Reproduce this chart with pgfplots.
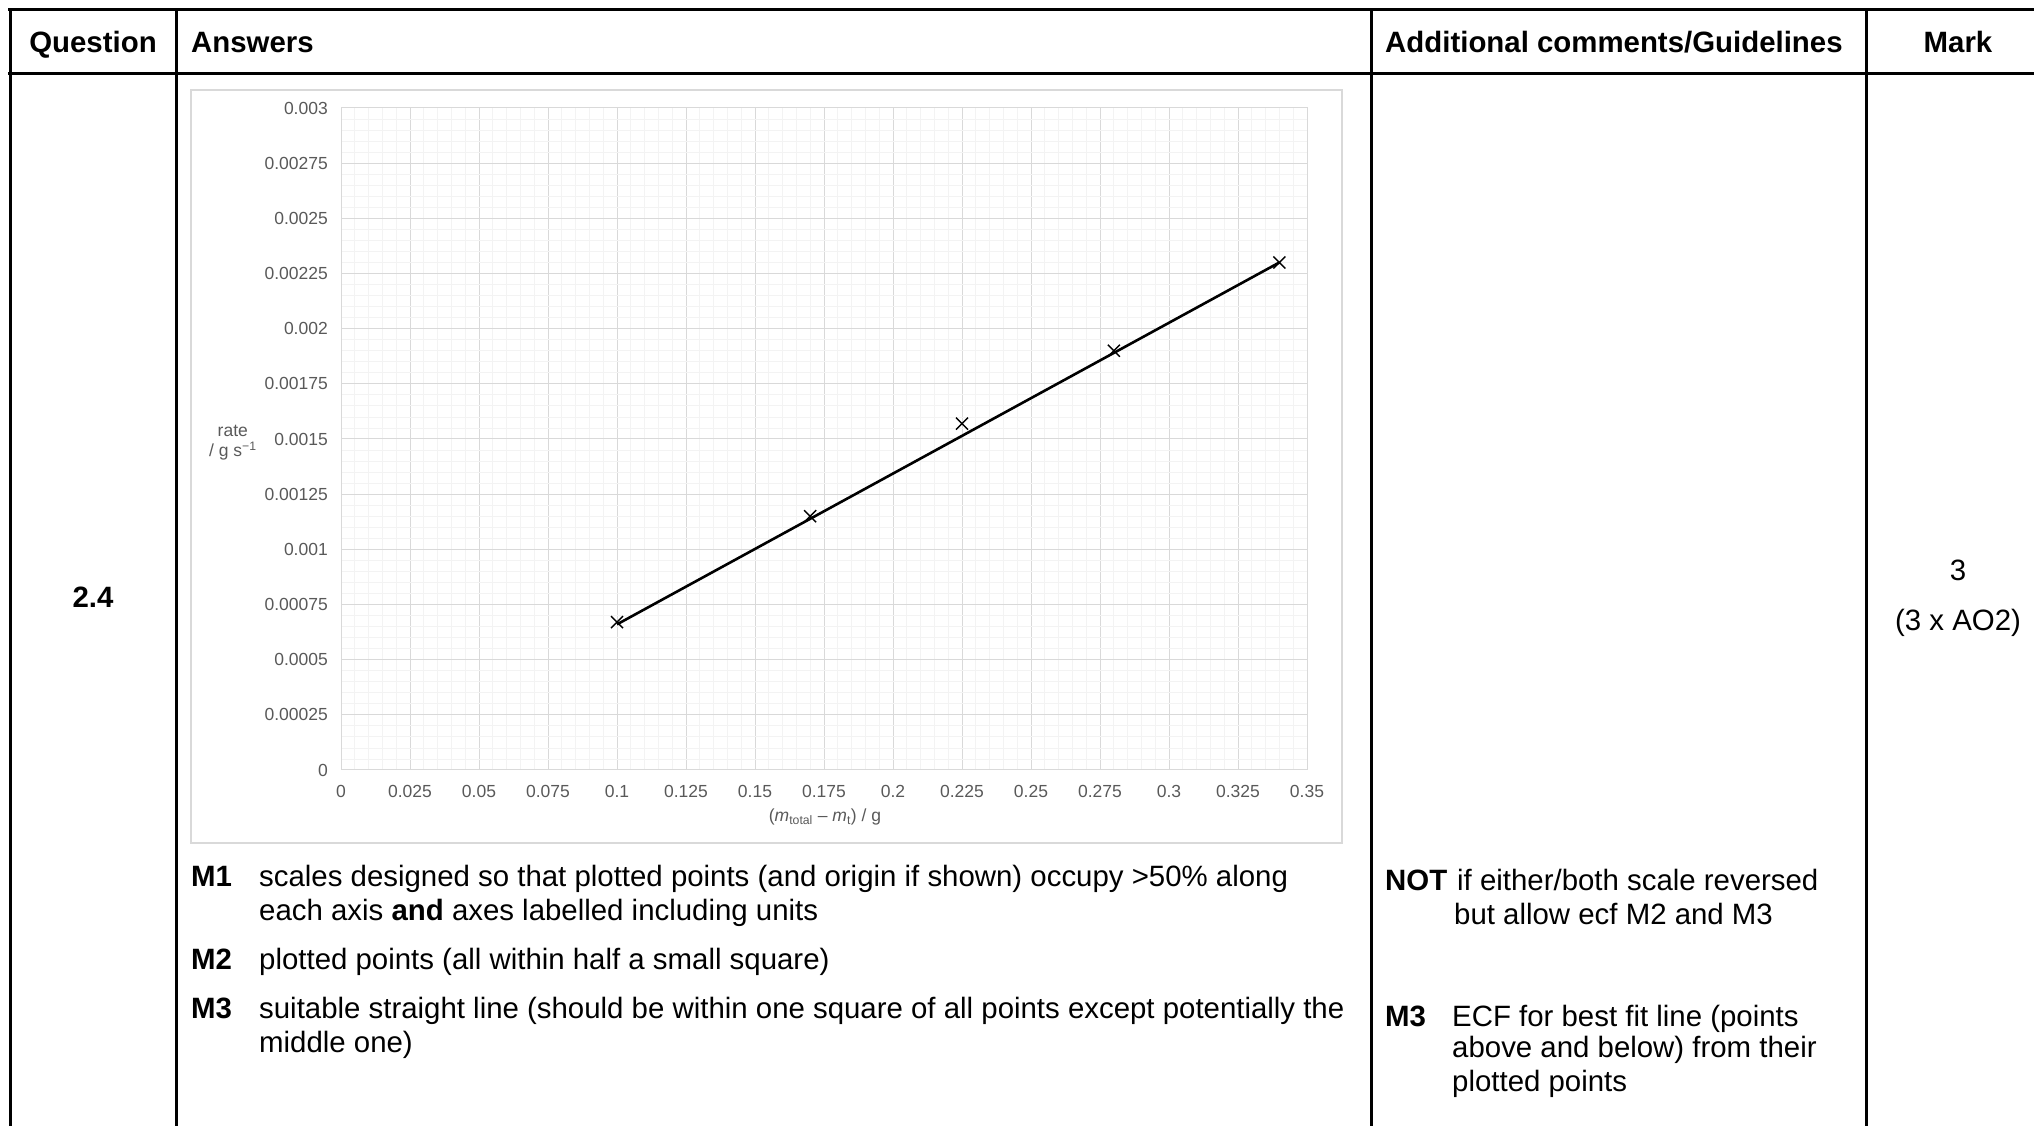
\documentclass[border=0pt]{standalone}
\usepackage{fontspec}
\setmainfont{Liberation Sans}
\usepackage{pgfplots}
\pgfplotsset{compat=1.18}
\definecolor{gridmaj}{HTML}{D9D9D9}
\definecolor{gridmin}{HTML}{F3F3F3}
\definecolor{ticktext}{HTML}{595959}
\definecolor{boxgray}{HTML}{D9D9D9}
\newcommand{\bodyfont}{\fontsize{29.4}{35}\selectfont}
\newcommand{\tickfont}{\fontsize{17.5}{20}\selectfont}
\begin{document}
\begin{tikzpicture}
\useasboundingbox (0pt,0pt) rectangle (2034pt,1126pt);
% table lines
\draw[line width=3pt] (8pt,1116pt) -- (2034pt,1116pt);
\draw[line width=3pt] (8pt,1052pt) -- (2034pt,1052pt);
\draw[line width=3pt] (10pt,1117.5pt) -- (10pt,0pt);
\draw[line width=3pt] (176pt,1117.5pt) -- (176pt,0pt);
\draw[line width=3pt] (1371pt,1117.5pt) -- (1371pt,0pt);
\draw[line width=3pt] (1866pt,1117.5pt) -- (1866pt,0pt);
% header
\node[anchor=base, inner sep=0] at (93pt,1073pt) {\bodyfont\bfseries Question};
\node[anchor=base west, inner sep=0] at (191pt,1073pt) {\bodyfont\bfseries Answers};
\node[anchor=base west, inner sep=0] at (1385pt,1073pt) {\bodyfont\bfseries Additional comments/Guidelines};
\node[anchor=base, inner sep=0] at (1958pt,1073pt) {\bodyfont\bfseries Mark};
% question / mark
\node[anchor=base, inner sep=0] at (93pt,518pt) {\bodyfont\bfseries 2.4};
\node[anchor=base, inner sep=0] at (1958pt,545pt) {\bodyfont 3};
\node[anchor=base, inner sep=0] at (1958pt,495pt) {\bodyfont (3 x AO2)};
% chart box
\draw[boxgray, line width=1.2pt] (191pt,283pt) rectangle (1342pt,1036pt);
% answers text
\node[anchor=base west, inner sep=0] at (191pt,239pt) {\bodyfont\bfseries M1};
\node[anchor=base west, inner sep=0] at (259pt,239pt) {\bodyfont scales designed so that plotted points (and origin if shown) occupy >50\% along};
\node[anchor=base west, inner sep=0] at (259pt,205pt) {\bodyfont each axis \textbf{and} axes labelled including units};
\node[anchor=base west, inner sep=0] at (191pt,156pt) {\bodyfont\bfseries M2};
\node[anchor=base west, inner sep=0] at (259pt,156pt) {\bodyfont plotted points (all within half a small square)};
\node[anchor=base west, inner sep=0] at (191pt,107pt) {\bodyfont\bfseries M3};
\node[anchor=base west, inner sep=0] at (259pt,107pt) {\bodyfont suitable straight line (should be within one square of all points except potentially the};
\node[anchor=base west, inner sep=0] at (259pt,73pt) {\bodyfont middle one)};
% comments text
\node[anchor=base west, inner sep=0] at (1385pt,235pt) {\bodyfont\bfseries NOT};
\node[anchor=base west, inner sep=0] at (1457pt,235pt) {\bodyfont if either/both scale reversed};
\node[anchor=base west, inner sep=0] at (1454pt,201pt) {\bodyfont but allow ecf M2 and M3};
\node[anchor=base west, inner sep=0] at (1385pt,99pt) {\bodyfont\bfseries M3};
\node[anchor=base west, inner sep=0] at (1452pt,99pt) {\bodyfont ECF for best fit line (points};
\node[anchor=base west, inner sep=0] at (1452pt,68pt) {\bodyfont above and below) from their};
\node[anchor=base west, inner sep=0] at (1452pt,34pt) {\bodyfont plotted points};
% chart
\begin{axis}[
  at={(341pt,356pt)}, anchor=south west,
  scale only axis, width=966pt, height=662pt,
  xmin=0, xmax=0.35, ymin=0, ymax=0.003,
  xtick={0,0.025,0.05,0.075,0.1,0.125,0.15,0.175,0.2,0.225,0.25,0.275,0.3,0.325,0.35},
  xticklabels={0,0.025,0.05,0.075,0.1,0.125,0.15,0.175,0.2,0.225,0.25,0.275,0.3,0.325,0.35},
  ytick={0,0.00025,0.0005,0.00075,0.001,0.00125,0.0015,0.00175,0.002,0.00225,0.0025,0.00275,0.003},
  yticklabels={0,0.00025,0.0005,0.00075,0.001,0.00125,0.0015,0.00175,0.002,0.00225,0.0025,0.00275,0.003},
  scaled x ticks=false, scaled y ticks=false,
  minor x tick num=4, minor y tick num=4,
  grid=both,
  major grid style={gridmaj, line width=1pt},
  minor grid style={gridmin, line width=0.8pt},
  axis line style={gridmaj, line width=1pt},
  major tick length=0pt, minor tick length=0pt,
  xticklabel style={font=\tickfont, text=ticktext, anchor=north, inner sep=0pt, yshift=-15pt},
  yticklabel style={font=\tickfont, text=ticktext, anchor=east, inner sep=0pt, xshift=-13pt},
  ylabel={rate\\/ g s\textsuperscript{−1}},
  ylabel style={rotate=-90, align=center, font=\tickfont, text=ticktext, anchor=center,
    at={(axis description cs:-0.112,0.494)}},
  xlabel={(\textit{m}\textsubscript{total} – \textit{m}\textsubscript{t}) / g},
  xlabel style={font=\tickfont, text=ticktext, anchor=center,
    at={(axis description cs:0.501,-0.071)}},
  clip=false,
]
\addplot[black, line width=2.6pt] coordinates {(0.1,0.00066) (0.34,0.0023)};
\addplot[only marks, mark=x, mark size=8.5pt, mark options={black, line width=1.4pt}]
  coordinates {(0.1,0.00067) (0.17,0.00115) (0.225,0.00157) (0.28,0.0019) (0.34,0.0023)};
\end{axis}
\end{tikzpicture}
\end{document}
